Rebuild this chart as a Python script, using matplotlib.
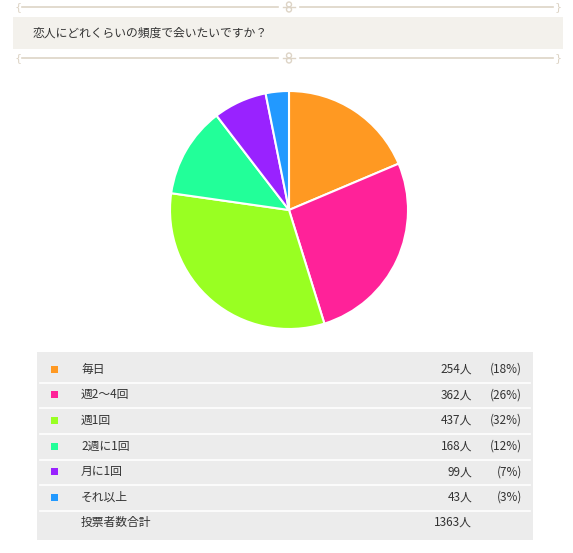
import matplotlib
matplotlib.use("Agg")
import matplotlib.pyplot as plt
from matplotlib.patches import Rectangle, Ellipse

plt.rcParams['font.family'] = ['Noto Sans CJK JP', 'DejaVu Sans']

title = "恋人にどれくらいの頻度で会いたいですか？"
categories = ["毎日", "週2〜4回", "週1回", "2週に1回", "月に1回", "それ以上"]
counts = [254, 362, 437, 168, 99, 43]
percents = [18, 26, 32, 12, 7, 3]
colors = ["#FF9922", "#FF2299", "#99FF22", "#22FF99", "#9922FF", "#2299FF"]
total_label = "投票者数合計"
total = 1363

W, H = 573, 553
fig = plt.figure(figsize=(W / 100, H / 100), dpi=100)
fig.patch.set_facecolor("white")

bg = fig.add_axes([0, 0, 1, 1])
bg.set_xlim(0, W)
bg.set_ylim(H, 0)
bg.axis("off")

# decorative lines
orn_col = "#ddd4c6"
for y in (7, 58):
    bg.plot([22, 278], [y, y], color=orn_col, lw=1.2)
    bg.plot([300, 553], [y, y], color=orn_col, lw=1.2)
    # center ornament: stacked loops
    bg.add_patch(Ellipse((289, y - 2.5), 5, 5, fill=False, edgecolor=orn_col, lw=1))
    bg.add_patch(Ellipse((289, y + 2.5), 5, 5, fill=False, edgecolor=orn_col, lw=1))
    bg.plot([283, 295], [y, y], color=orn_col, lw=1)
    # end ornaments
    bg.text(18, y, "{", ha="center", va="center", fontsize=8, color=orn_col, family="DejaVu Sans")
    bg.text(558, y, "}", ha="center", va="center", fontsize=8, color=orn_col, family="DejaVu Sans")
    bg.plot([13, 562], [y, y], ls="none")

# header box
bg.add_patch(Rectangle((13, 17), 550, 32, facecolor="#f3f1ec", edgecolor="none"))
bg.text(33, 33.5, title, ha="left", va="center", fontsize=8.5, color="#333333")

# pie
cx, cy, r = 289, 210, 119
pax = fig.add_axes([(cx - r) / W, (H - cy - r) / H, 2 * r / W, 2 * r / H])
pax.pie(counts, colors=colors, startangle=90, counterclock=False, radius=1,
        wedgeprops=dict(edgecolor="white", linewidth=1.5))
pax.set_xlim(-1, 1)
pax.set_ylim(-1, 1)
pax.set_aspect("equal")
pax.axis("off")

# table
tx0, tx1 = 37, 533
ty0, ty1 = 352, 540
bg.add_patch(Rectangle((tx0, ty0), tx1 - tx0, ty1 - ty0, facecolor="#ececec", edgecolor="none"))
row_h = 25.7
y_first = 369
for i, (c, n, p, col) in enumerate(zip(categories, counts, percents, colors)):
    y = y_first + i * row_h
    bg.add_patch(Rectangle((51, y - 3.5), 7, 7, facecolor=col, edgecolor="none"))
    bg.text(81, y, c, ha="left", va="center", fontsize=8.5, color="#333333")
    bg.text(472, y, f"{n}人", ha="right", va="center", fontsize=8.5, color="#333333")
    bg.text(522, y, f"({p}%)", ha="right", va="center", fontsize=8.5, color="#333333")
    bg.plot([tx0 + 3, tx1 - 3], [y + 13.5, y + 13.5], color="white", lw=1.2)
yt = y_first + len(categories) * row_h - 1
bg.text(81, yt, total_label, ha="left", va="center", fontsize=8.5, color="#333333")
bg.text(472, yt, f"{total}人", ha="right", va="center", fontsize=8.5, color="#333333")

fig.savefig("out.png", dpi=100)
